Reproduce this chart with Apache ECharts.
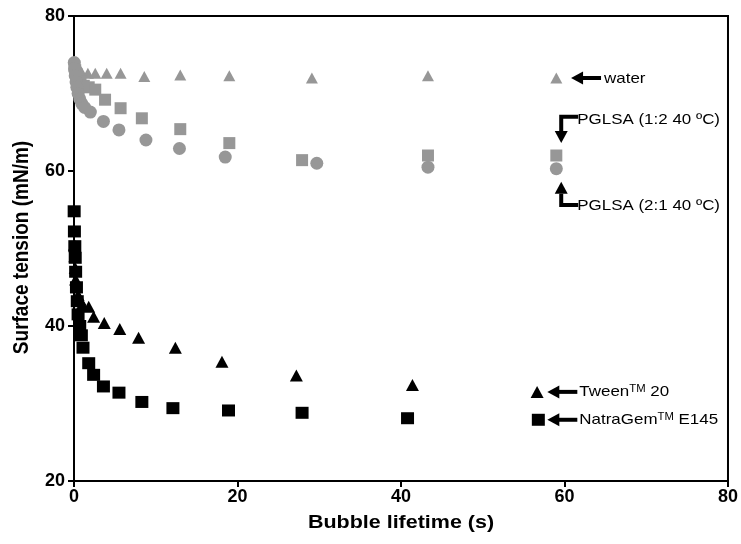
<!DOCTYPE html>
<html><head><meta charset="utf-8">
<script src="https://cdn.jsdelivr.net/npm/echarts@6/dist/echarts.min.js"></script>
<style>html,body{margin:0;padding:0;background:#fff}#c{width:741px;height:544px}</style>
</head><body><div id="c"></div>
<script>
// ---- data ----
const xTicks = [0, 20, 40, 60, 80];
const yTicks = [20, 40, 60, 80];

const waterX = [0.05, 0.2, 0.5, 0.9, 1.7, 2.6, 4.0, 5.7, 8.6, 13.0, 19.0, 29.1, 43.3, 59.0];
const waterY = [73.8, 73.3, 73.0, 72.8, 72.6, 72.6, 72.6, 72.6, 72.2, 72.4, 72.3, 72.0, 72.3, 72.0];

const pg12X = [0.05, 0.15, 0.3, 0.5, 0.8, 1.2, 1.8, 2.6, 3.8, 5.7, 8.3, 13.0, 19.0, 27.9, 43.3, 59.0];
const pg12Y = [73.5, 73.0, 72.5, 72.0, 71.5, 71.0, 70.8, 70.5, 69.2, 68.1, 66.8, 65.4, 63.6, 61.4, 62.0, 62.0];

const pg21X = [0.03, 0.08, 0.15, 0.25, 0.35, 0.5, 0.7, 0.95, 1.3, 2.0, 3.6, 5.5, 8.8, 12.9, 18.5, 29.7, 43.3, 59.0];
const pg21Y = [74.0, 73.2, 72.3, 71.5, 70.8, 70.0, 69.3, 68.7, 68.2, 67.6, 66.4, 65.3, 64.0, 62.9, 61.8, 61.0, 60.5, 60.3];

const tweenX = [0.05, 0.1, 0.15, 0.2, 0.3, 0.5, 0.7, 1.0, 1.8, 2.4, 3.7, 5.6, 7.9, 12.4, 18.1, 27.2, 41.4];
const tweenY = [50.5, 49.0, 47.5, 46.0, 45.0, 44.0, 43.5, 42.8, 42.5, 41.2, 40.4, 39.6, 38.5, 37.2, 35.4, 33.6, 32.4];

const natraX = [0.02, 0.05, 0.1, 0.15, 0.2, 0.3, 0.4, 0.5, 0.7, 0.9, 1.1, 1.8, 2.4, 3.6, 5.5, 8.3, 12.1, 18.9, 27.9, 40.8];
const natraY = [54.8, 52.2, 50.3, 48.8, 47.0, 45.0, 43.2, 41.5, 40.0, 38.8, 37.2, 35.2, 33.7, 32.2, 31.4, 30.2, 29.4, 29.1, 28.8, 28.1];

const names = ['water', 'PGLSA (1:2 40 ºC)', 'PGLSA (2:1 40 ºC)', 'Tween', 'NatraGem'];

// ---- chart ----
const FONT = "'Liberation Sans', Arial, Helvetica, sans-serif";
const GREY = '#979797';
const SX = 1.13;
const pts = (xs, ys) => xs.map((x, i) => [x, ys[i]]);

const chart = echarts.init(document.getElementById('c'), null, {renderer: 'canvas'});

const axisCommon = {
  type: 'value',
  axisLine: {show: true, onZero: false, lineStyle: {color: '#000', width: 2}},
  axisTick: {show: true, length: 6, lineStyle: {color: '#000', width: 2}},
  splitLine: {show: false},
  axisLabel: {color: '#000', fontFamily: FONT, fontSize: 18, fontWeight: 'bold'}
};

const option = {
  animation: false,
  backgroundColor: '#fff',
  grid: {left: 74, right: 12, top: 16, bottom: 63, show: true, borderColor: '#000', borderWidth: 2, backgroundColor: 'transparent'},
  xAxis: Object.assign({}, axisCommon, {
    min: xTicks[0], max: xTicks[xTicks.length - 1], interval: xTicks[1] - xTicks[0],
    axisLabel: Object.assign({}, axisCommon.axisLabel, {margin: 7})
  }),
  yAxis: Object.assign({}, axisCommon, {
    min: yTicks[0], max: yTicks[yTicks.length - 1], interval: yTicks[1] - yTicks[0],
    axisLabel: Object.assign({}, axisCommon.axisLabel, {margin: 9})
  }),
  series: [
    {name: names[0], type: 'scatter', data: pts(waterX, waterY), symbol: 'triangle', symbolSize: [12, 11], itemStyle: {color: GREY, opacity: 1}, z: 2},
    {name: names[1], type: 'scatter', data: pts(pg12X, pg12Y), symbol: 'rect', symbolSize: [12, 12], itemStyle: {color: GREY, opacity: 1}, z: 3},
    {name: names[2], type: 'scatter', data: pts(pg21X, pg21Y), symbol: 'circle', symbolSize: 13, itemStyle: {color: GREY, opacity: 1}, z: 3},
    {name: names[3], type: 'scatter', data: pts(tweenX, tweenY), symbol: 'triangle', symbolSize: [13, 12], itemStyle: {color: '#000', opacity: 1}, z: 4,
      markPoint: {symbol: 'triangle', symbolSize: [13, 12], itemStyle: {color: '#000'}, label: {show: false}, data: [{coord: [56.65, 31.5]}]}},
    {name: names[4], type: 'scatter', data: pts(natraX, natraY), symbol: 'rect', symbolSize: [13, 12], itemStyle: {color: '#000', opacity: 1}, z: 5,
      markPoint: {symbol: 'rect', symbolSize: [13, 12], itemStyle: {color: '#000'}, label: {show: false}, data: [{coord: [56.8, 27.9]}]}}
  ]
};
chart.setOption(option);

// ---- annotations (anchored in data space) ----
const P = (x, y) => chart.convertToPixel({gridIndex: 0}, [x, y]);
const g = [];
function leftArrow(tip) {
  const [x, y] = tip;
  g.push({type: 'polygon', shape: {points: [[x, y], [x + 12, y - 6.5], [x + 12, y + 6.5]]}, style: {fill: '#000'}, z: 10});
  g.push({type: 'rect', shape: {x: x + 10, y: y - 2, width: 20, height: 4}, style: {fill: '#000'}, z: 10});
}
function bracket(corner, tipY) {
  const [x, y] = corner;
  const dir = tipY > y ? 1 : -1;
  const baseY = tipY - dir * 12;
  g.push({type: 'polyline', shape: {points: [[x + 17, y], [x, y], [x, baseY]]}, style: {stroke: '#000', lineWidth: 4, fill: null}, z: 10});
  g.push({type: 'polygon', shape: {points: [[x, tipY], [x - 6.5, baseY], [x + 6.5, baseY]]}, style: {fill: '#000'}, z: 10});
}
function label(pos, text, rich) {
  g.push({type: 'text', x: pos[0], y: pos[1], scaleX: SX, z: 10,
    style: {text: text, fill: '#000', fontFamily: FONT, fontSize: 15, align: 'left', verticalAlign: 'middle', rich: rich || {}}});
}
const sup = {sup: {fontSize: 10, fontFamily: FONT, fill: '#000', verticalAlign: 'top', padding: [0, 0, 4, 0]}};

// water
const wTip = P(60.8, 72.0);
leftArrow(wTip);
label([wTip[0] + 33, wTip[1] + 0.5], 'water');
// PGLSA 1:2
const c12 = P(59.6, 67.0);
bracket(c12, P(59.6, 63.6)[1]);
label([c12[0] + 16, c12[1] + 3], names[1]);
// PGLSA 2:1
const c21 = P(59.6, 55.6);
bracket(c21, P(59.6, 58.6)[1]);
label([c21[0] + 16, c21[1] + 0.5], names[2]);
// Tween
const tTip = P(57.9, 31.5);
leftArrow(tTip);
label([tTip[0] + 32, tTip[1]], 'Tween{sup|TM} 20', sup);
// NatraGem
const nTip = P(57.9, 27.9);
leftArrow(nTip);
label([nTip[0] + 32, nTip[1]], 'NatraGem{sup|TM} E145', sup);

// axis titles
const xMid = P(40, 20);
g.push({type: 'text', x: xMid[0], y: xMid[1] + 42, scaleX: SX,
  style: {text: 'Bubble lifetime (s)', fill: '#000', fontFamily: FONT, fontSize: 19, fontWeight: 'bold', align: 'center', verticalAlign: 'middle'}});
const yMid = P(0, 50);
g.push({type: 'text', x: 22, y: yMid[1] - 1, rotation: Math.PI / 2, scaleY: SX,
  style: {text: 'Surface tension (mN/m)', fill: '#000', fontFamily: FONT, fontSize: 19, fontWeight: 'bold', align: 'center', verticalAlign: 'middle'}});

chart.setOption({graphic: g});
</script>
</body></html>
